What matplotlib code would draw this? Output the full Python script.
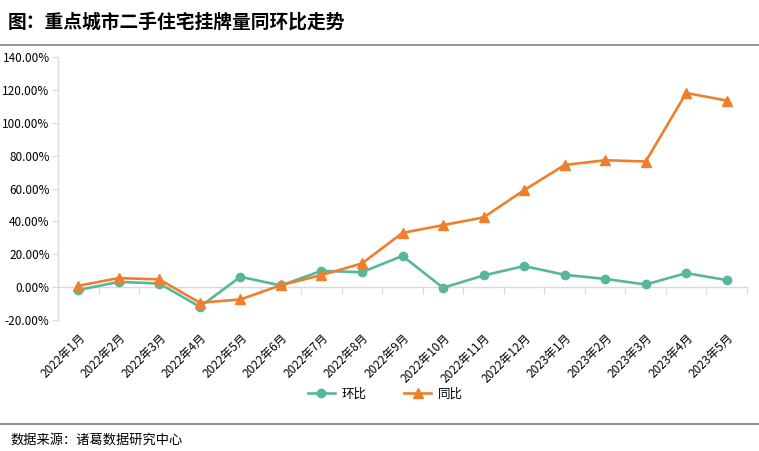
import matplotlib
matplotlib.use("Agg")
import matplotlib.pyplot as plt
from matplotlib.lines import Line2D
from matplotlib.ticker import FuncFormatter, FixedLocator

plt.rcParams['font.family'] = ['Noto Sans CJK SC', 'DejaVu Sans']

categories = ["2022年1月", "2022年2月", "2022年3月", "2022年4月", "2022年5月", "2022年6月",
              "2022年7月", "2022年8月", "2022年9月", "2022年10月", "2022年11月", "2022年12月",
              "2023年1月", "2023年2月", "2023年3月", "2023年4月", "2023年5月"]
huanbi = [-1.8, 3.2, 2.2, -12.0, 6.3, 1.0, 9.9, 9.1, 19.0, -0.4, 7.1, 12.8, 7.5, 5.0, 1.6, 8.5, 4.3]
tongbi = [0.8, 5.5, 4.7, -9.5, -7.5, 1.2, 7.3, 14.4, 33.0, 37.7, 42.4, 59.0, 74.3, 77.2, 76.4, 118.1, 113.5]
y_ticks = [-20, 0, 20, 40, 60, 80, 100, 120, 140]

title = "图：重点城市二手住宅挂牌量同环比走势"
source = "数据来源：诸葛数据研究中心"

green = '#58B79A'
orange = '#EE7F2D'
axis_gray = '#D9D9D9'

fig = plt.figure(figsize=(7.59, 4.51), dpi=100)
ax = fig.add_axes([58/759, 1-320/451, (747-58)/759, (320-57)/451])

x = list(range(len(categories)))
ax.plot(x, huanbi, color=green, lw=1.9, marker='o', ms=6.0, label='环比', zorder=3)
ax.plot(x, tongbi, color=orange, lw=1.9, marker='^', ms=7.0, label='同比', zorder=4)

ax.set_xlim(-0.5, len(categories) - 0.5)
ax.set_ylim(-20, 140)
ax.set_yticks(y_ticks)
ax.yaxis.set_major_formatter(FuncFormatter(lambda v, p: f"{v:.2f}%"))
ax.set_xticks(x)
ax.set_xticklabels(categories, rotation=45, ha='right', rotation_mode='anchor', fontsize=8.5)
ax.tick_params(axis='x', length=0, pad=8)
ax.tick_params(axis='y', length=4, color=axis_gray, labelsize=8.5, pad=2)

for s in ['top', 'right', 'bottom']:
    ax.spines[s].set_visible(False)
ax.spines['left'].set_color(axis_gray)
ax.spines['left'].set_linewidth(1.0)

# zero axis line with boundary ticks
sec = ax.secondary_xaxis(20/160)
sec.spines['bottom'].set_color(axis_gray)
sec.spines['bottom'].set_linewidth(1.0)
sec.xaxis.set_major_locator(FixedLocator([i - 0.5 for i in range(len(categories) + 1)]))
sec.tick_params(axis='x', length=5, color=axis_gray, labelbottom=False)
for s in ['top', 'left', 'right']:
    sec.spines[s].set_visible(False)

# legend
handles = [Line2D([], [], color=green, lw=1.9, marker='o', ms=6.0),
           Line2D([], [], color=orange, lw=1.9, marker='^', ms=7.0)]
fig.legend(handles, ['环比', '同比'], loc='center', bbox_to_anchor=(385/759, 1-394/451),
           ncol=2, frameon=False, fontsize=9, handlelength=2.2, columnspacing=3.0, handletextpad=0.5)

fig.text(8/759, 1-22/451, title, fontsize=13.5, fontweight='bold', va='center', ha='left')
fig.text(10/759, 1-440/451, source, fontsize=9.5, va='center', ha='left')

fig.add_artist(Line2D([0, 1], [1-45/451, 1-45/451], color='#808080', lw=1.2, transform=fig.transFigure))
fig.add_artist(Line2D([0, 1], [1-424/451, 1-424/451], color='#808080', lw=1.2, transform=fig.transFigure))

fig.savefig('out.png', dpi=100)
